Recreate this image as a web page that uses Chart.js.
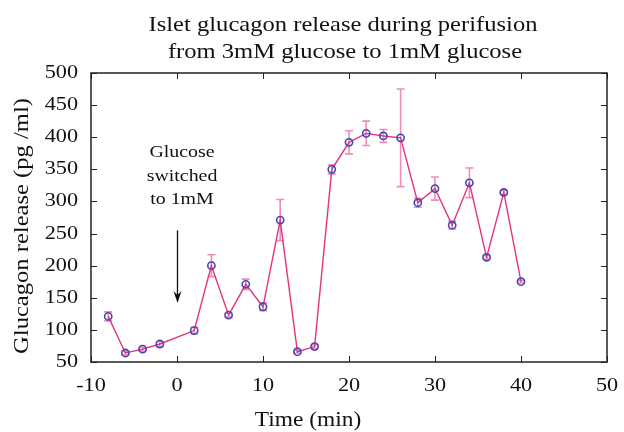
<!DOCTYPE html>
<html>
<head>
<meta charset="utf-8">
<script src="https://cdn.jsdelivr.net/npm/chart.js@4.4.0/dist/chart.umd.min.js"></script>
<style>
  html, body { margin: 0; padding: 0; background: #fff; }
  #chart { display: block; }
</style>
</head>
<body>
<canvas id="chart" width="624" height="432"></canvas>
<script>
// time (min) relative to the glucose switch
const times = [-8, -6, -4, -2, 2, 4, 6, 8, 10, 12, 14, 16, 18, 20, 22, 24, 26, 28, 30, 32, 34, 36, 38, 40];
// glucagon release (pg/ml)
const glucagon = [121, 64, 70, 78, 99, 200, 123, 171, 136, 271, 66, 74, 350, 392, 406, 402, 399, 298, 320, 263, 329, 213, 314, 175];
// +/- error
const errors = [7, 3, 3, 4, 5, 17, 3, 8, 6, 32, 2, 3, 7, 18, 19, 10, 76, 7, 18, 6, 23, 3, 3, 2];

const titleLines = ['Islet glucagon release during perifusion', 'from 3mM glucose to 1mM glucose'];
const xTitle = 'Time (min)';
const yTitle = 'Glucagon release (pg /ml)';
const noteLines = ['Glucose', 'switched', 'to 1mM'];
const arrowFrom = 255;
const arrowTo = 142;

const serif = '"Liberation Serif", "Times New Roman", serif';
const STRETCH = 1.17; // the original figure is a little wider than tall

// text drawn a bit wider, like the source image
function wideText(ctx, s, x, y, align) {
    ctx.save();
    ctx.translate(x, y);
    ctx.scale(STRETCH, 1);
    ctx.textAlign = align || 'center';
    ctx.fillText(s, 0, 0);
    ctx.restore();
}

const extras = {
    id: 'extras',
    beforeDatasetsDraw(chart) {
        const ctx = chart.ctx;
        const x = chart.scales.x, y = chart.scales.y;
        ctx.save();
        ctx.strokeStyle = '#f08cba';
        ctx.lineWidth = 1.6;
        times.forEach((t, i) => {
            const px = x.getPixelForValue(t);
            const top = y.getPixelForValue(glucagon[i] + errors[i]);
            const bot = y.getPixelForValue(glucagon[i] - errors[i]);
            ctx.beginPath();
            ctx.moveTo(px, top); ctx.lineTo(px, bot);
            ctx.moveTo(px - 4, top); ctx.lineTo(px + 4, top);
            ctx.moveTo(px - 4, bot); ctx.lineTo(px + 4, bot);
            ctx.stroke();
        });
        ctx.restore();
    },
    afterDraw(chart) {
        const ctx = chart.ctx;
        const a = chart.chartArea;
        const x = chart.scales.x, y = chart.scales.y;
        ctx.save();
        // frame with inward ticks on all four sides
        ctx.strokeStyle = '#222';
        ctx.lineWidth = 1.5;
        ctx.strokeRect(a.left, a.top, a.right - a.left, a.bottom - a.top);
        ctx.lineWidth = 1;
        ctx.beginPath();
        x.ticks.forEach(tk => {
            const px = Math.round(x.getPixelForValue(tk.value)) + 0.5;
            ctx.moveTo(px, a.bottom); ctx.lineTo(px, a.bottom - 6);
            ctx.moveTo(px, a.top); ctx.lineTo(px, a.top + 6);
        });
        y.ticks.forEach(tk => {
            const py = Math.round(y.getPixelForValue(tk.value)) + 0.5;
            ctx.moveTo(a.left, py); ctx.lineTo(a.left + 6, py);
            ctx.moveTo(a.right, py); ctx.lineTo(a.right - 6, py);
        });
        ctx.stroke();

        ctx.fillStyle = '#111';
        ctx.textBaseline = 'middle';
        ctx.font = '19px ' + serif;
        x.ticks.forEach(tk => wideText(ctx, String(tk.value), x.getPixelForValue(tk.value), a.bottom + 24, 'center'));
        y.ticks.forEach(tk => wideText(ctx, String(tk.value), a.left - 13, y.getPixelForValue(tk.value), 'right'));

        ctx.textBaseline = 'alphabetic';
        ctx.font = '21px ' + serif;
        wideText(ctx, titleLines[0], 343, 31);
        wideText(ctx, titleLines[1], 345, 58);

        ctx.textBaseline = 'middle';
        ctx.font = '20px ' + serif;
        wideText(ctx, xTitle, 308, 421);

        // rotated y title
        ctx.save();
        ctx.translate(22, 226);
        ctx.rotate(-Math.PI / 2);
        ctx.scale(STRETCH, 1);
        ctx.font = '21px ' + serif;
        ctx.textAlign = 'center';
        ctx.fillText(yTitle, 0, 0);
        ctx.restore();

        ctx.font = '17px ' + serif;
        noteLines.forEach((s, i) => wideText(ctx, s, x.getPixelForValue(0) + 5, 153 + i * 23.5));

        // arrow at the switch time
        const ax = Math.round(x.getPixelForValue(0)) + 0.5;
        const y0 = y.getPixelForValue(arrowFrom), y1 = y.getPixelForValue(arrowTo);
        ctx.strokeStyle = '#111';
        ctx.lineWidth = 1.3;
        ctx.beginPath();
        ctx.moveTo(ax, y0); ctx.lineTo(ax, y1 - 6);
        ctx.stroke();
        ctx.beginPath();
        ctx.moveTo(ax, y1);
        ctx.lineTo(ax - 4, y1 - 12);
        ctx.lineTo(ax, y1 - 8);
        ctx.lineTo(ax + 4, y1 - 12);
        ctx.closePath();
        ctx.fill();
        ctx.restore();
    }
};

new Chart(document.getElementById('chart'), {
    type: 'scatter',
    data: {
        datasets: [{
            data: times.map((t, i) => ({ x: t, y: glucagon[i] })),
            showLine: true,
            borderColor: '#e4347f',
            borderWidth: 1.4,
            pointStyle: 'circle',
            pointRadius: 3.6,
            pointBorderWidth: 1.6,
            pointBorderColor: '#4548b0',
            pointBackgroundColor: 'rgba(0,0,0,0)'
        }]
    },
    options: {
        responsive: false,
        animation: false,
        layout: { padding: { top: 73, right: 17, bottom: 70, left: 91 } },
        plugins: {
            legend: { display: false },
            tooltip: { enabled: false }
        },
        scales: {
            x: {
                type: 'linear',
                min: -10, max: 50,
                grid: { display: false, drawTicks: false, tickLength: 0 },
                border: { display: false },
                ticks: { stepSize: 10, display: false, padding: 0 }
            },
            y: {
                min: 50, max: 500,
                grid: { display: false, drawTicks: false, tickLength: 0 },
                border: { display: false },
                ticks: { stepSize: 50, display: false, padding: 0 }
            }
        }
    },
    plugins: [extras]
});
</script>
</body>
</html>
